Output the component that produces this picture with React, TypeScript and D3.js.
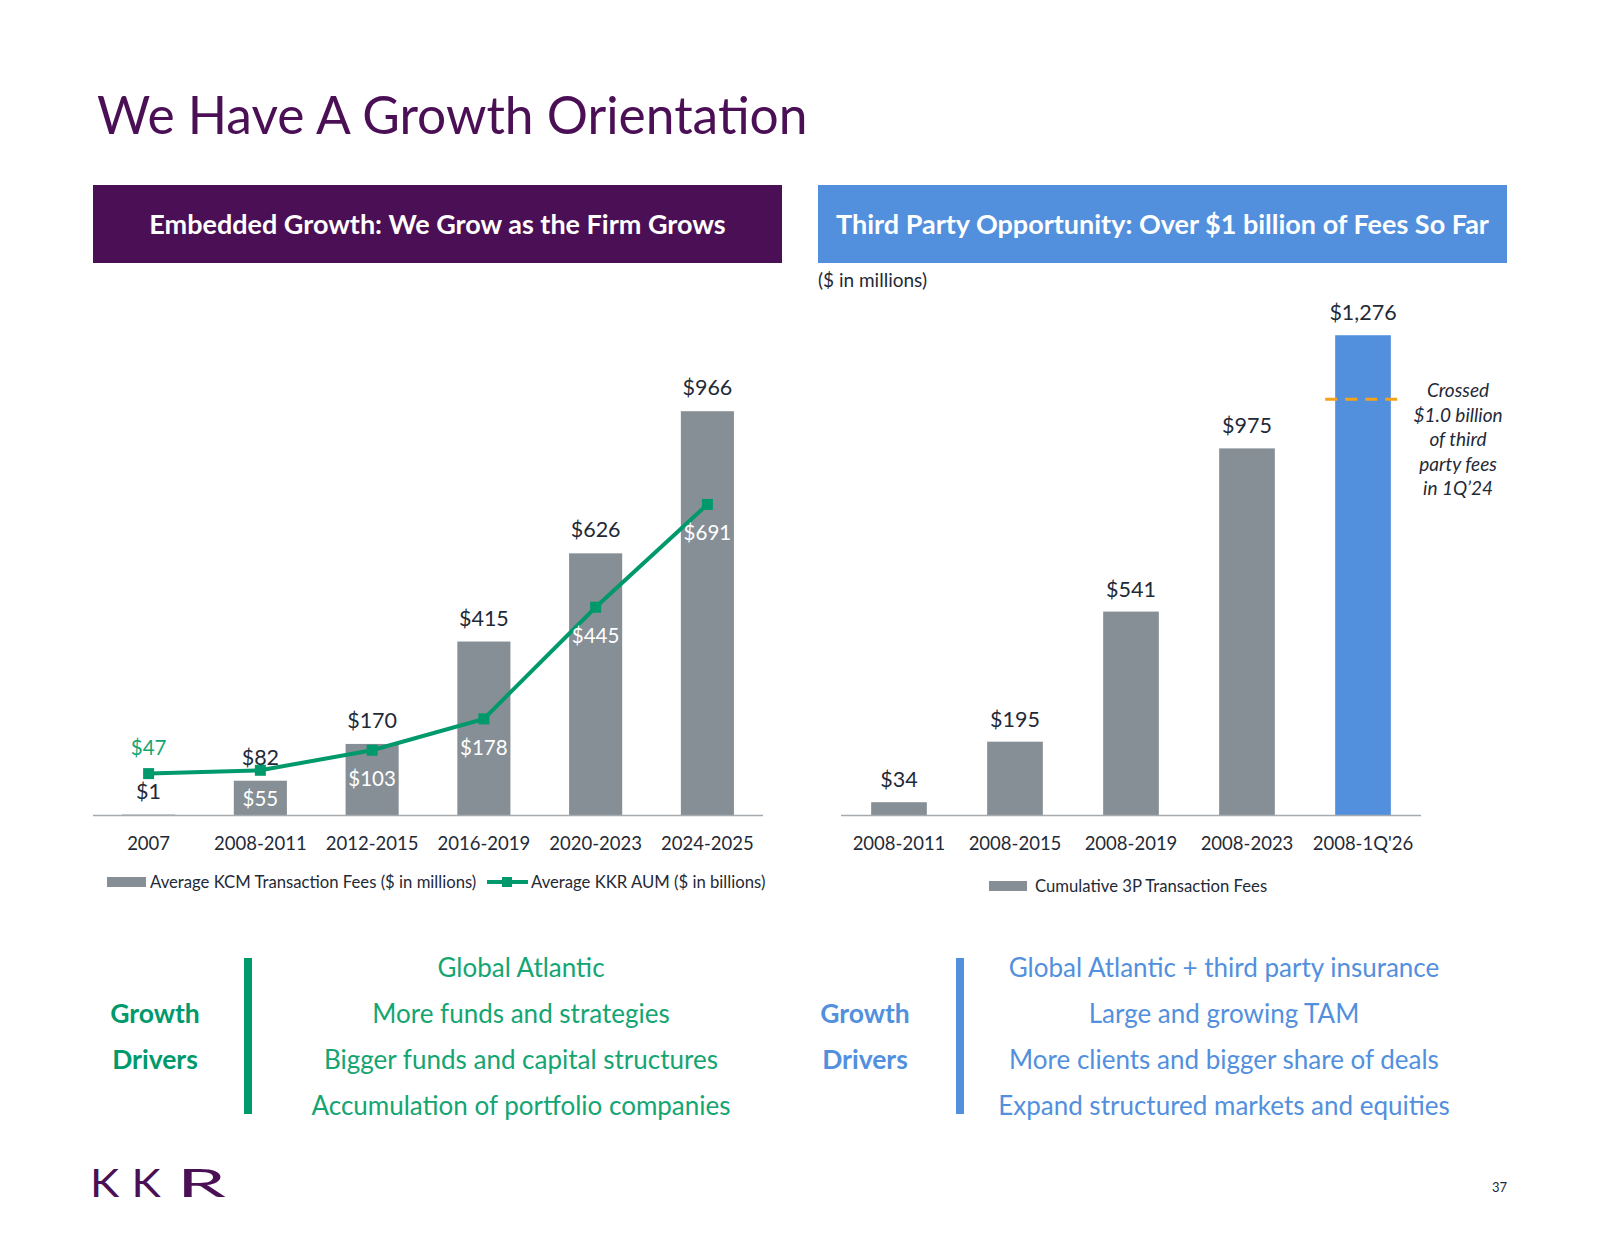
import React from "react";
import * as d3 from "d3";

const leftCategories = ["2007", "2008-2011", "2012-2015", "2016-2019", "2020-2023", "2024-2025"];
const kcmFees = [1, 82, 170, 415, 626, 966];
const kkrAum = [47, 55, 103, 178, 445, 691];

const rightCategories = ["2008-2011", "2008-2015", "2008-2019", "2008-2023", "2008-1Q'26"];
const thirdPartyFees = [34, 195, 541, 975, 1276];
const crossedMarkerValue = 1106;

const leftDrivers = [
  "Global Atlantic",
  "More funds and strategies",
  "Bigger funds and capital structures",
  "Accumulation of portfolio companies",
];
const rightDrivers = [
  "Global Atlantic + third party insurance",
  "Large and growing TAM",
  "More clients and bigger share of deals",
  "Expand structured markets and equities",
];
const annotationLines = ["Crossed", "$1.0 billion", "of third", "party fees", "in 1Q\u201924"];
const logoLetters = ["K", "K", "R"];

const FONT = "Lato, 'Open Sans', sans-serif";
const PURPLE = "#4B0F55";
const BLUE = "#5290DE";
const GRAY = "#868F96";
const GREEN = "#00996B";
const GREEN_TEXT = "#14A572";
const DARK = "#1F2A37";

export default function App() {
  // Left chart scales
  const xL = d3.scaleBand<string>().domain(leftCategories).range([93, 763]).paddingInner(0.525).paddingOuter(0.26);
  const yBarL = d3.scaleLinear().domain([0, 1000]).range([815, 397]);
  const yLineL = d3.scaleLinear().domain([-52, 948]).range([815, 397]);
  const linePath = d3
    .line<number>()
    .x((_, i) => (xL(leftCategories[i]) as number) + xL.bandwidth() / 2)
    .y((d) => yLineL(d))(kkrAum) as string;

  // Right chart scales
  const xR = d3.scaleBand<string>().domain(rightCategories).range([841, 1421]).paddingInner(0.52).paddingOuter(0.26);
  const yR = d3.scaleLinear().domain([0, 1300]).range([815, 815 - 0.376 * 1300]);

  const lastR = rightCategories[rightCategories.length - 1];
  const logoX = [90, 131.5, 177];
  const logoScale = [1.13, 1.13, 2.0];

  return (
    <svg width={1600} height={1237} style={{ display: "block", position: "absolute", left: 0, top: 0 }} fontFamily={FONT}>
      <rect width={1600} height={1237} fill="#fff" />
      {/* Title */}
      <text x={97} y={134} fontSize={51.5} fill={PURPLE} fontWeight={400}>We Have A Growth Orientation</text>

      {/* Headers */}
      <rect x={93} y={185} width={689} height={78} fill={PURPLE} />
      <text x={437.5} y={234} textAnchor="middle" fontSize={27} fontWeight={700} fill="#fff">Embedded Growth: We Grow as the Firm Grows</text>
      <rect x={818} y={185} width={689} height={78} fill={BLUE} />
      <text x={1162.5} y={234} textAnchor="middle" fontSize={27} fontWeight={700} fill="#fff">Third Party Opportunity: Over $1 billion of Fees So Far</text>
      <text x={818} y={287} fontSize={19} fill={DARK}>($ in millions)</text>

      {/* Left chart bars */}
      {leftCategories.map((c, i) => {
        const x = xL(c) as number;
        const w = xL.bandwidth();
        const top = yBarL(kcmFees[i]);
        return (
          <g key={c}>
            <rect x={x} y={top} width={w} height={815 - top} fill={GRAY} />
            <text x={x + w / 2} y={top - 16} textAnchor="middle" fontSize={21.5} fill={DARK}>${kcmFees[i]}</text>
          </g>
        );
      })}
      <line x1={93} x2={763} y1={815.5} y2={815.5} stroke="#A6ABAF" strokeWidth={1.5} />
      <path d={linePath} fill="none" stroke={GREEN} strokeWidth={4} />
      {kkrAum.map((v, i) => {
        const cx = (xL(leftCategories[i]) as number) + xL.bandwidth() / 2;
        const cy = yLineL(v);
        const first = i === 0;
        return (
          <g key={i}>
            <rect x={cx - 5.5} y={cy - 5.5} width={11} height={11} fill={GREEN} />
            <text x={cx} y={first ? cy - 19 : cy + 36} textAnchor="middle" fontSize={20.5} fill={first ? GREEN_TEXT : "#fff"}>${v}</text>
          </g>
        );
      })}
      {leftCategories.map((c) => (
        <text key={c} x={(xL(c) as number) + xL.bandwidth() / 2} y={850} textAnchor="middle" fontSize={18.5} fill={DARK}>{c}</text>
      ))}
      {/* Left legend */}
      <rect x={107} y={877} width={39} height={10} fill={GRAY} />
      <text x={150} y={888} fontSize={16.7} fill={DARK}>Average KCM Transaction Fees ($ in millions)</text>
      <line x1={487} x2={528} y1={882} y2={882} stroke={GREEN} strokeWidth={4} />
      <rect x={502} y={877} width={10} height={10} fill={GREEN} />
      <text x={531} y={888} fontSize={16.7} fill={DARK}>Average KKR AUM ($ in billions)</text>

      {/* Right chart bars */}
      {rightCategories.map((c, i) => {
        const x = xR(c) as number;
        const w = xR.bandwidth();
        const top = yR(thirdPartyFees[i]);
        return (
          <g key={c}>
            <rect x={x} y={top} width={w} height={815 - top} fill={c === lastR ? BLUE : GRAY} />
            <text x={x + w / 2} y={top - 15} textAnchor="middle" fontSize={21.5} fill={DARK}>${d3.format(",")(thirdPartyFees[i])}</text>
          </g>
        );
      })}
      <line x1={841} x2={1421} y1={815.5} y2={815.5} stroke="#A6ABAF" strokeWidth={1.5} />
      <line
        x1={(xR(lastR) as number) - 10}
        x2={(xR(lastR) as number) + xR.bandwidth() + 8}
        y1={yR(crossedMarkerValue)}
        y2={yR(crossedMarkerValue)}
        stroke="#F5A31A"
        strokeWidth={3}
        strokeDasharray="12 8"
      />
      {annotationLines.map((t, i) => (
        <text key={i} x={1458} y={397 + i * 24.5} textAnchor="middle" fontSize={19} fontStyle="italic" fill={DARK}>{t}</text>
      ))}
      {rightCategories.map((c) => (
        <text key={c} x={(xR(c) as number) + xR.bandwidth() / 2} y={850} textAnchor="middle" fontSize={18.5} fill={DARK}>{c}</text>
      ))}
      <rect x={989} y={881} width={38} height={10} fill={GRAY} />
      <text x={1035} y={892} fontSize={16.7} fill={DARK}>Cumulative 3P Transaction Fees</text>

      {/* Growth drivers left */}
      <text x={155} y={1023} textAnchor="middle" fontSize={26.5} fontWeight={700} fill={GREEN}>Growth</text>
      <text x={155} y={1069} textAnchor="middle" fontSize={26.5} fontWeight={700} fill={GREEN}>Drivers</text>
      <rect x={244} y={958} width={8} height={156} fill={GREEN} />
      {leftDrivers.map((t, i) => (
        <text key={t} x={521} y={977 + i * 46} textAnchor="middle" fontSize={26} fill={GREEN_TEXT}>{t}</text>
      ))}

      {/* Growth drivers right */}
      <text x={865} y={1023} textAnchor="middle" fontSize={26.5} fontWeight={700} fill={BLUE}>Growth</text>
      <text x={865} y={1069} textAnchor="middle" fontSize={26.5} fontWeight={700} fill={BLUE}>Drivers</text>
      <rect x={956} y={958} width={8} height={156} fill={BLUE} />
      {rightDrivers.map((t, i) => (
        <text key={t} x={1224} y={977 + i * 46} textAnchor="middle" fontSize={26} fill={BLUE}>{t}</text>
      ))}

      {/* Footer */}
      {logoLetters.map((l, i) => (
        <text key={i} transform={`translate(${logoX[i]},1197) scale(${logoScale[i]},1)`} fontSize={39} fill={PURPLE} fontWeight={400}>{l}</text>
      ))}
      <text x={1507} y={1192} textAnchor="end" fontSize={13} fill={DARK}>37</text>
    </svg>
  );
}
